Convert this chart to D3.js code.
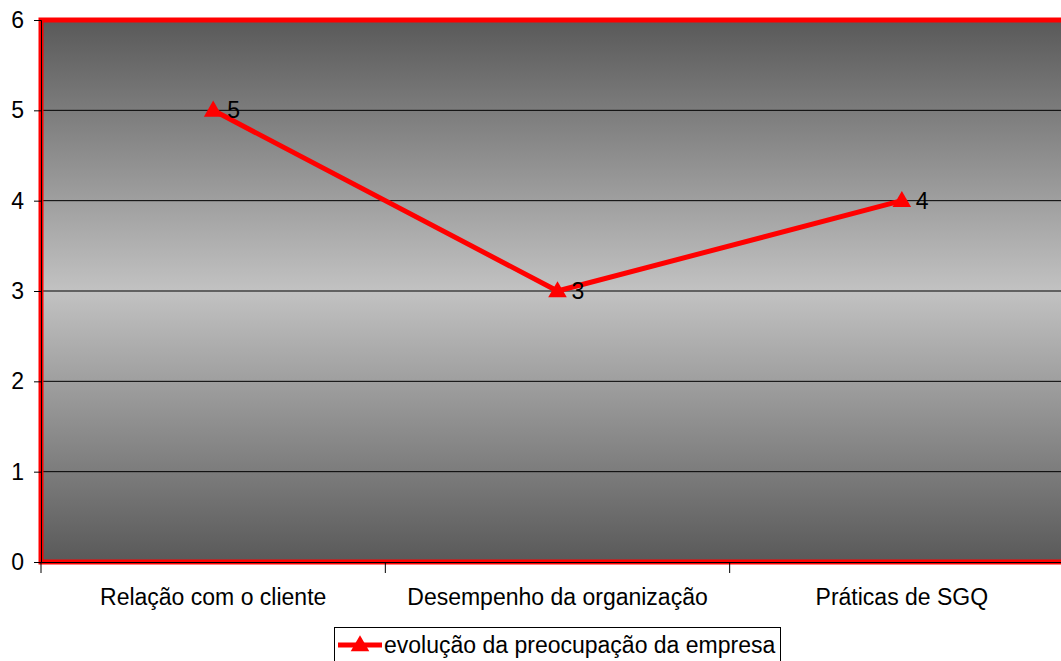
<!DOCTYPE html>
<html>
<head>
<meta charset="utf-8">
<script src="https://cdn.jsdelivr.net/npm/d3@7"></script>
<style>
  html, body { margin: 0; padding: 0; background: #fff; overflow: hidden; }
  svg { display: block; font-family: Arial, "Liberation Sans", sans-serif; }
</style>
</head>
<body>
<div id="chart"></div>
<script>
"use strict";

const categories = ["Relação com o cliente", "Desempenho da organização", "Práticas de SGQ"];
const values = [5, 3, 4];
const yTicks = [0, 1, 2, 3, 4, 5, 6];
const seriesName = "evolução da preocupação da empresa";

(function renderChart() {
  const width = 1061;
  const height = 661;
  const margin = { top: 20, right: -13, bottom: 99, left: 41 };
  const plotW = width - margin.left - margin.right;
  const plotH = height - margin.top - margin.bottom;
  const FONT = "Arial, 'Liberation Sans', sans-serif";
  const FS = 23;

  const svg = d3
    .select("#chart")
    .append("svg")
    .attr("width", width)
    .attr("height", height)
    .attr("viewBox", `0 0 ${width} ${height}`);

  const defs = svg.append("defs");
  const grad = defs
    .append("linearGradient")
    .attr("id", "bg")
    .attr("x1", 0).attr("y1", 0)
    .attr("x2", 0).attr("y2", 1);
  grad.append("stop").attr("offset", "0%").attr("stop-color", "#595959");
  grad.append("stop").attr("offset", "50%").attr("stop-color", "#c2c2c2");
  grad.append("stop").attr("offset", "100%").attr("stop-color", "#595959");

  const x = d3.scaleBand().domain(categories).range([0, plotW]);
  const y = d3.scaleLinear().domain([0, 6]).range([plotH, 0]);

  const g = svg.append("g").attr("transform", `translate(${margin.left},${margin.top})`);

  g.append("rect")
    .attr("width", plotW)
    .attr("height", plotH)
    .attr("fill", "url(#bg)");

  // grid lines
  g.selectAll("line.grid")
    .data(yTicks.filter((t) => t > 0 && t < 6))
    .join("line")
    .attr("class", "grid")
    .attr("x1", 0)
    .attr("x2", plotW)
    .attr("y1", (d) => y(d))
    .attr("y2", (d) => y(d))
    .attr("stroke", "#000")
    .attr("stroke-width", 1);

  // red frame
  g.append("rect")
    .attr("width", plotW)
    .attr("height", plotH)
    .attr("fill", "none")
    .attr("stroke", "#ff0000")
    .attr("stroke-width", 5);

  // y axis
  const yAxis = g
    .append("g")
    .call(d3.axisLeft(y).tickValues(yTicks).tickSize(7).tickPadding(10).tickFormat(d3.format("d")));
  yAxis.attr("font-size", FS).attr("font-family", FONT);
  yAxis.select(".domain").attr("stroke", "#000").attr("stroke-width", 1);
  yAxis.selectAll(".tick line").attr("stroke", "#000");
  yAxis.selectAll("text").attr("fill", "#000");

  // x axis
  const xAxis = g
    .append("g")
    .attr("transform", `translate(0,${plotH})`)
    .call(d3.axisBottom(x).tickSize(0).tickPadding(27));
  xAxis.attr("font-size", FS).attr("font-family", FONT);
  xAxis.select(".domain").attr("stroke", "#000").attr("stroke-width", 1);
  xAxis.selectAll("text").attr("fill", "#000");

  const boundaries = d3.range(0, categories.length + 1).map((i) => i * x.bandwidth());
  g.selectAll("line.xtick")
    .data(boundaries)
    .join("line")
    .attr("class", "xtick")
    .attr("x1", (d) => d)
    .attr("x2", (d) => d)
    .attr("y1", plotH)
    .attr("y2", plotH + 11)
    .attr("stroke", "#000");

  const cx = (d, i) => x(categories[i]) + x.bandwidth() / 2;

  const line = d3
    .line()
    .x((d, i) => cx(d, i))
    .y((d) => y(d));

  g.append("path")
    .datum(values)
    .attr("d", line)
    .attr("fill", "none")
    .attr("stroke", "#ff0000")
    .attr("stroke-width", 5);

  const tri = d3.symbol().type(d3.symbolTriangle).size(150);

  g.selectAll("path.marker")
    .data(values)
    .join("path")
    .attr("class", "marker")
    .attr("d", tri)
    .attr("transform", (d, i) => `translate(${cx(d, i)},${y(d) + 1})`)
    .attr("fill", "#ff0000");

  g.selectAll("text.label")
    .data(values)
    .join("text")
    .attr("class", "label")
    .attr("x", (d, i) => cx(d, i) + 14)
    .attr("y", (d) => y(d) + 8)
    .attr("font-size", FS)
    .attr("font-family", FONT)
    .attr("fill", "#000")
    .text((d) => d);

  // legend
  const legend = svg.append("g").attr("transform", "translate(334,627)");
  legend.append("rect")
    .attr("x", 0.5)
    .attr("y", 0.5)
    .attr("width", 446)
    .attr("height", 36)
    .attr("fill", "#fff")
    .attr("stroke", "#000")
    .attr("stroke-width", 1);
  legend.append("line")
    .attr("x1", 4)
    .attr("x2", 48)
    .attr("y1", 18)
    .attr("y2", 18)
    .attr("stroke", "#ff0000")
    .attr("stroke-width", 5);
  legend.append("path")
    .attr("d", tri)
    .attr("transform", "translate(26,19)")
    .attr("fill", "#ff0000");
  legend.append("text")
    .attr("x", 50)
    .attr("y", 26)
    .attr("font-size", FS)
    .attr("font-family", FONT)
    .attr("fill", "#000")
    .text(seriesName);
})();
</script>
</body>
</html>
